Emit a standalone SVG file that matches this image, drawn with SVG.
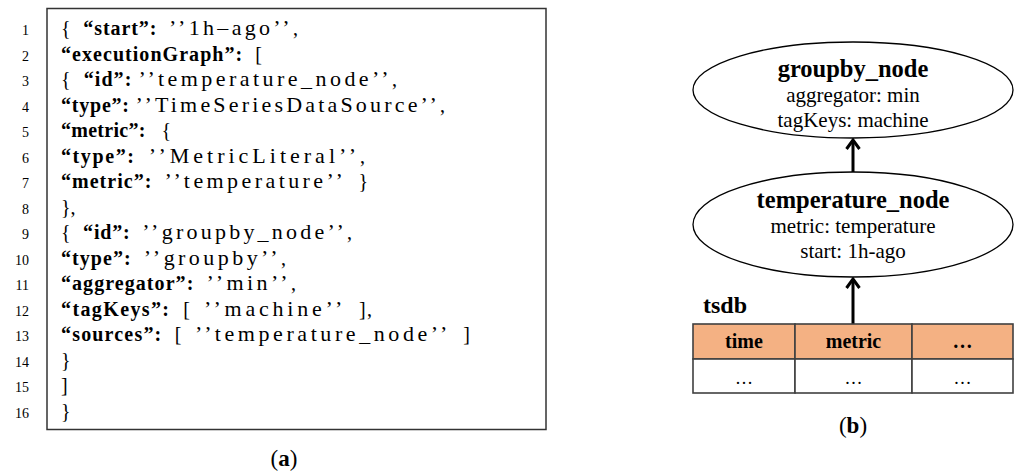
<svg xmlns="http://www.w3.org/2000/svg" width="1014" height="475" viewBox="0 0 1014 475">
<defs>
<style>
.code{font-family:"Liberation Serif","Times New Roman",serif;font-size:20px;fill:#000;white-space:pre}
.k{font-weight:bold;font-size:20px}
.s{font-size:22px;letter-spacing:2.4px}
.ln{font-family:"Liberation Serif","Times New Roman",serif;font-size:14px;fill:#000;text-anchor:end}
.t{font-family:"Liberation Serif","Times New Roman",serif;fill:#000;text-anchor:middle}
.b{font-weight:bold}
.node{fill:#fff;stroke:#000;stroke-width:1.3}
.cell{stroke:#404040;stroke-width:1.6}
.arrow{stroke:#000;stroke-width:3;fill:none}
</style>
<marker id="chev" markerUnits="userSpaceOnUse" viewBox="-12 -8 14 16" refX="0" refY="0" markerWidth="14" markerHeight="16" orient="auto">
<path d="M-9,-6.5 L0,0 L-9,6.5" fill="none" stroke="#000" stroke-width="3"/>
</marker>
</defs>

<g id="code-listing">
<rect x="47" y="8.5" width="499" height="421" fill="#fff" stroke="#333" stroke-width="1.5"/>
<g id="line-numbers">
<text class="ln" x="29" y="35">1</text>
<text class="ln" x="29" y="60.5">2</text>
<text class="ln" x="29" y="86">3</text>
<text class="ln" x="29" y="111.5">4</text>
<text class="ln" x="29" y="137">5</text>
<text class="ln" x="29" y="162.5">6</text>
<text class="ln" x="29" y="188">7</text>
<text class="ln" x="29" y="213.5">8</text>
<text class="ln" x="29" y="239">9</text>
<text class="ln" x="29" y="264.5">10</text>
<text class="ln" x="29" y="290">11</text>
<text class="ln" x="29" y="315.5">12</text>
<text class="ln" x="29" y="341">13</text>
<text class="ln" x="29" y="366.5">14</text>
<text class="ln" x="29" y="392">15</text>
<text class="ln" x="29" y="417.5">16</text>
</g>
<g id="code-lines">
<text class="code" x="61" y="35" textLength="237" lengthAdjust="spacing">{  <tspan class="k">“start”:</tspan>  <tspan class="s">’’1h–ago’’</tspan>,</text>
<text class="code" x="61" y="60.5" textLength="201" lengthAdjust="spacing"><tspan class="k">“executionGraph”:</tspan>  [</text>
<text class="code" x="61" y="86" textLength="336" lengthAdjust="spacing">{  <tspan class="k">“id”:</tspan> <tspan class="s">’’temperature_node’’</tspan>,</text>
<text class="code" x="61" y="111.5" textLength="384" lengthAdjust="spacing"><tspan class="k">“type”:</tspan> <tspan class="s">’’TimeSeriesDataSource’’</tspan>,</text>
<text class="code" x="61" y="137" textLength="110" lengthAdjust="spacing"><tspan class="k">“metric”:</tspan>   {</text>
<text class="code" x="61" y="162.5" textLength="304" lengthAdjust="spacing"><tspan class="k">“type”:</tspan>  <tspan class="s">’’MetricLiteral’’</tspan>,</text>
<text class="code" x="61" y="188" textLength="307" lengthAdjust="spacing"><tspan class="k">“metric”:</tspan>  <tspan class="s">’’temperature’’</tspan>  }</text>
<text class="code" x="61" y="213.5">},</text>
<text class="code" x="61" y="239" textLength="291" lengthAdjust="spacing">{  <tspan class="k">“id”:</tspan>  <tspan class="s">’’groupby_node’’</tspan>,</text>
<text class="code" x="61" y="264.5" textLength="225" lengthAdjust="spacing"><tspan class="k">“type”:</tspan>  <tspan class="s">’’groupby’’</tspan>,</text>
<text class="code" x="61" y="290" textLength="235" lengthAdjust="spacing"><tspan class="k">“aggregator”:</tspan>  <tspan class="s">’’min’’</tspan>,</text>
<text class="code" x="61" y="315.5" textLength="311" lengthAdjust="spacing"><tspan class="k">“tagKeys”:</tspan>  [  <tspan class="s">’’machine’’</tspan>  ],</text>
<text class="code" x="61" y="341" textLength="409" lengthAdjust="spacing"><tspan class="k">“sources”:</tspan>  [  <tspan class="s">’’temperature_node’’</tspan>  ]</text>
<text class="code" x="61" y="366.5">}</text>
<text class="code" x="61" y="392">]</text>
<text class="code" x="61" y="417.5">}</text>
</g>
</g>
<text id="caption-a" class="t" x="284" y="466" font-size="23">(<tspan class="b">a</tspan>)</text>

<g id="connectors">
<line class="arrow" x1="853" y1="172" x2="853" y2="140" marker-end="url(#chev)"/>
<line class="arrow" x1="853" y1="324" x2="853" y2="279" marker-end="url(#chev)"/>
</g>

<g id="groupby_node">
<ellipse class="node" cx="853" cy="90" rx="160" ry="48"/>
<text class="t b" x="853" y="77" font-size="24.5">groupby_node</text>
<text class="t" x="853" y="102" font-size="21">aggregator: min</text>
<text class="t" x="853" y="127" font-size="21">tagKeys: machine</text>
</g>

<g id="temperature_node">
<ellipse class="node" cx="853" cy="224.5" rx="160" ry="52.5"/>
<text class="t b" x="853" y="208" font-size="24.5">temperature_node</text>
<text class="t" x="853" y="233" font-size="21">metric: temperature</text>
<text class="t" x="853" y="258" font-size="21">start: 1h-ago</text>
</g>

<g id="tsdb">
<text class="b" x="703" y="313" font-family="Liberation Serif, Times New Roman, serif" font-size="24">tsdb</text>
<rect class="cell" x="693" y="324" width="102" height="35" fill="#F4B183"/>
<rect class="cell" x="795" y="324" width="117" height="35" fill="#F4B183"/>
<rect class="cell" x="912" y="324" width="101" height="35" fill="#F4B183"/>
<rect class="cell" x="693" y="359" width="102" height="34" fill="#fff"/>
<rect class="cell" x="795" y="359" width="117" height="34" fill="#fff"/>
<rect class="cell" x="912" y="359" width="101" height="34" fill="#fff"/>
<text class="t b" x="744" y="348" font-size="20">time</text>
<text class="t b" x="853.5" y="348" font-size="20">metric</text>
<text class="t b" x="962.5" y="348" font-size="20">…</text>
<text class="t" x="744" y="384" font-size="18">…</text>
<text class="t" x="853.5" y="384" font-size="18">…</text>
<text class="t" x="962.5" y="384" font-size="18">…</text>
</g>
<text id="caption-b" class="t" x="853" y="433" font-size="23">(<tspan class="b">b</tspan>)</text>
</svg>
